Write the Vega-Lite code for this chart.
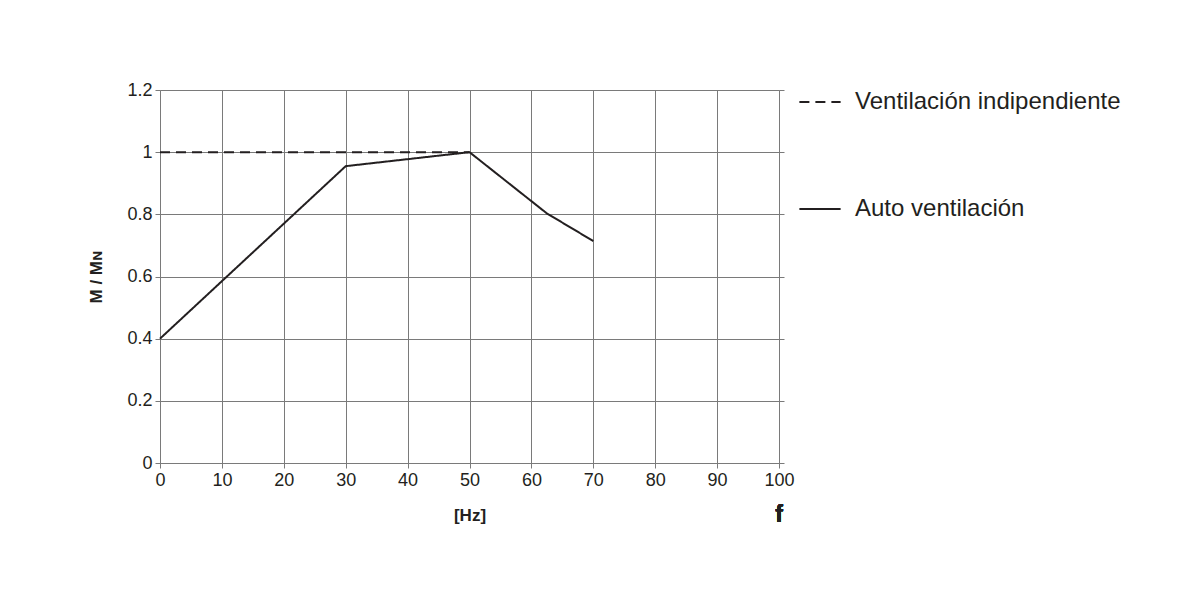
{
  "$schema": "https://vega.github.io/schema/vega-lite/v6.json",
  "width": 619,
  "height": 373,
  "autosize": {"type": "none"},
  "padding": {"left": 160, "top": 90, "right": 412, "bottom": 126},
  "background": "white",
  "config": {
    "font": "Liberation Sans",
    "view": {"stroke": null},
    "axis": {
      "gridColor": "#7a7a7a",
      "gridOpacity": 1,
      "gridWidth": 1,
      "domainColor": "#7a7a7a",
      "domainWidth": 1,
      "tickColor": "#7a7a7a",
      "tickSize": 5,
      "labelFontSize": 18,
      "labelFlush": false,
      "labelColor": "#231f20",
      "titleColor": "#231f20",
      "titleFontWeight": "bold",
      "titleFontSize": 17
    }
  },
  "data": {
    "values": [
      {"series": "Ventilación indipendiente", "f": 0, "m": 1},
      {"series": "Ventilación indipendiente", "f": 50, "m": 1},
      {"series": "Auto ventilación", "f": 0, "m": 0.4},
      {"series": "Auto ventilación", "f": 30, "m": 0.955},
      {"series": "Auto ventilación", "f": 50, "m": 1},
      {"series": "Auto ventilación", "f": 62.5, "m": 0.803},
      {"series": "Auto ventilación", "f": 70, "m": 0.714}
    ]
  },
  "layer": [
    {
      "mark": {"type": "line", "color": "#231f20", "strokeWidth": 2},
      "encoding": {
        "x": {
          "field": "f", "type": "quantitative",
          "scale": {"domain": [0, 100], "nice": false},
          "axis": {"values": [0,10,20,30,40,50,60,70,80,90,100], "title": "[Hz]", "titlePadding": 18, "labelPadding": 3}
        },
        "y": {
          "field": "m", "type": "quantitative",
          "scale": {"domain": [0, 1.2], "nice": false},
          "axis": {"values": [0,0.2,0.4,0.6,0.8,1,1.2], "format": "~g", "title": "M / Mɴ", "titlePadding": 21, "labelPadding": 3}
        },
        "strokeDash": {
          "field": "series", "type": "nominal",
          "scale": {"domain": ["Ventilación indipendiente", "Auto ventilación"], "range": [[10, 6], [1, 0]]},
          "legend": {
            "title": null,
            "orient": "none",
            "legendX": 638,
            "legendY": -10,
            "padding": 0,
            "symbolType": "stroke",
            "symbolSize": 1700,
            "symbolStrokeWidth": 2,
            "symbolStrokeColor": "#231f20",
            "labelFontSize": 24,
            "labelColor": "#231f20",
            "labelOffset": 13,
            "rowPadding": 73,
            "labelLimit": 400
          }
        }
      }
    },
    {
      "mark": {"type": "rule", "color": "#7a7a7a", "opacity": 0},
      "encoding": {
        "y": {
          "datum": 0, "type": "quantitative",
          "scale": {"domain": [0, 1.2], "nice": false},
          "axis": {"orient": "right", "labels": false, "grid": false, "title": null, "values": [0,0.2,0.4,0.6,0.8,1,1.2]}
        }
      }
    },
    {
      "mark": {"type": "text", "text": "f", "fontSize": 23, "fontWeight": "bold", "color": "#231f20", "dy": 52, "baseline": "middle", "align": "center"},
      "encoding": {
        "x": {"datum": 100, "type": "quantitative"},
        "y": {"datum": 0, "type": "quantitative", "scale": {"domain": [0, 1.2], "nice": false}, "axis": null}
      }
    }
  ],
  "resolve": {"axis": {"y": "independent"}, "scale": {"y": "independent"}}
}
